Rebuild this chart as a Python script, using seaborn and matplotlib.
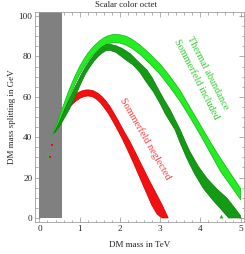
import matplotlib
matplotlib.use("Agg")
import matplotlib.pyplot as plt
import numpy as np
import seaborn as sns

# band edges: (DM mass in TeV, mass splitting in GeV)
red_outer_x = [0.39, 0.45, 0.55, 0.65, 0.75, 0.85, 0.95, 1.05, 1.15, 1.25, 1.35, 1.45, 1.55,
               1.65, 1.75, 1.85, 1.95, 2.10, 2.25, 2.40, 2.58, 2.75, 2.92, 3.05, 3.20]
red_outer_y = [42.5, 47.5, 52.0, 55.5, 58.3, 60.5, 62.0, 62.9, 63.4, 63.4, 62.9, 61.8, 60.2,
               58.0, 55.3, 52.0, 48.5, 43.0, 37.8, 31.8, 24.6, 17.8, 11.4, 6.4, 0.0]
red_inner_x = [0.39, 0.45, 0.55, 0.65, 0.76, 0.88, 1.01, 1.12, 1.22, 1.32, 1.42, 1.52, 1.62,
               1.72, 1.82, 1.92, 2.05, 2.17, 2.33, 2.50, 2.65, 2.79, 2.92, 3.04]
red_inner_y = [42.5, 45.0, 48.5, 52.0, 55.1, 57.5, 59.3, 60.2, 60.4, 60.0, 58.8, 56.9, 54.3,
               51.5, 48.0, 44.4, 39.5, 34.5, 27.5, 19.7, 12.8, 6.4, 2.0, 0.0]

light_outer_x = [0.32, 0.40, 0.50, 0.60, 0.70, 0.80, 0.90, 1.00, 1.10, 1.20, 1.30, 1.40, 1.50,
                 1.60, 1.70, 1.84, 2.00, 2.15, 2.30, 2.50, 2.75, 3.00, 3.25, 3.50, 3.75, 4.00,
                 4.25, 4.50, 4.75, 5.00]
light_outer_y = [41.0, 45.0, 50.5, 56.0, 61.5, 66.5, 71.0, 75.0, 78.5, 81.5, 84.0, 86.0, 87.8,
                 89.2, 90.2, 90.9, 90.7, 90.0, 88.5, 85.6, 81.2, 76.2, 70.0, 63.0, 54.5, 46.0,
                 37.5, 29.5, 22.0, 14.5]
light_inner_x = [0.32, 0.40, 0.50, 0.60, 0.70, 0.80, 0.90, 1.00, 1.10, 1.20, 1.30, 1.40, 1.50,
                 1.60, 1.70, 1.85, 2.00, 2.15, 2.30, 2.50, 2.75, 3.00, 3.25, 3.50, 3.75, 4.00,
                 4.25, 4.50, 4.75, 5.00]
light_inner_y = [41.0, 43.5, 47.5, 52.5, 57.5, 62.5, 67.0, 71.0, 74.5, 77.5, 80.0, 82.2, 84.0,
                 85.3, 86.3, 86.9, 86.6, 85.6, 84.0, 81.0, 76.2, 71.0, 64.5, 57.6, 49.5, 41.0,
                 32.0, 23.0, 16.0, 9.0]

dark_outer_x = [0.36, 0.45, 0.55, 0.65, 0.75, 0.85, 0.95, 1.05, 1.15, 1.25, 1.35, 1.45, 1.55,
                1.65, 1.75, 1.90, 2.05, 2.25, 2.45, 2.67, 2.80, 2.92, 3.10, 3.25, 3.40, 3.50,
                3.62, 3.74, 3.95, 4.16, 4.40, 4.66, 4.85, 5.00, 5.00]
dark_outer_y = [42.0, 45.5, 50.0, 54.5, 59.0, 63.5, 67.5, 71.5, 75.0, 78.0, 80.5, 82.7, 84.5,
                85.8, 86.0, 85.3, 84.0, 81.5, 77.5, 73.3, 69.5, 65.0, 58.5, 53.5, 47.5, 43.6,
                38.0, 32.8, 25.5, 19.7, 14.5, 9.8, 5.0, 1.0, 0.0]
dark_inner_x = [0.36, 0.45, 0.55, 0.65, 0.75, 0.85, 0.95, 1.05, 1.15, 1.25, 1.35, 1.45, 1.55,
                1.65, 1.75, 1.90, 2.00, 2.15, 2.33, 2.50, 2.62, 2.72, 2.83, 3.00, 3.12, 3.25,
                3.37, 3.50, 3.66, 3.85, 4.07, 4.30, 4.49, 4.70]
dark_inner_y = [42.0, 44.0, 47.0, 50.5, 54.0, 58.5, 63.0, 67.5, 71.5, 74.7, 77.5, 79.8, 81.6,
                82.8, 83.0, 82.0, 80.5, 78.2, 75.7, 72.0, 68.3, 65.5, 62.5, 56.5, 51.8, 47.5,
                43.6, 37.0, 29.6, 22.0, 14.7, 9.0, 4.8, 0.0]

# stray points
red_dots_x = [0.30, 0.26]
red_dots_y = [36.1, 30.3]
green_dots_x = [0.21, 4.50]
green_dots_y = [30.3, 0.8]

excluded_x = [0.0, 0.56]

sns.set_theme(style="ticks")
plt.rcParams["font.family"] = ["Liberation Serif", "DejaVu Serif"]

fig = plt.figure(figsize=(2.45, 2.54), dpi=100)
ax = fig.add_axes([0.1429, 0.126, 0.8510, 0.8268])

ax.fill_between(excluded_x, 0, 103, color="#808080", lw=0, zorder=1)


def band(xo, yo, xi, yi, face, edge):
    px = np.r_[xo, xi[::-1]]
    py = np.r_[yo, yi[::-1]]
    ax.fill(px, py, facecolor=face, edgecolor=edge, lw=0.5, zorder=2)


band(red_outer_x, red_outer_y, red_inner_x, red_inner_y, "#f21010", "#d00000")
band(light_outer_x, light_outer_y, light_inner_x, light_inner_y, "#22ee22", "#1ab01a")
band(dark_outer_x, dark_outer_y, dark_inner_x, dark_inner_y, "#149a14", "#0c7c0c")

sns.scatterplot(x=red_dots_x, y=red_dots_y, color="#e01010", s=3, marker="s", lw=0, ax=ax, zorder=3)
sns.scatterplot(x=green_dots_x[:1], y=green_dots_y[:1], color="#22cc22", s=3, marker="s", lw=0, ax=ax, zorder=3)
sns.scatterplot(x=green_dots_x[1:], y=green_dots_y[1:], color="#22bb22", s=8, marker="^", lw=0, ax=ax, zorder=3)

ax.text(4.18, 71.6, "Thermal abundance", color="#33cc33", fontsize=7.4,
        rotation=-63, ha="center", va="center", rotation_mode="anchor")
ax.text(3.89, 68.7, "Sommerfeld included", color="#33cc33", fontsize=7.4,
        rotation=-63, ha="center", va="center", rotation_mode="anchor")
ax.text(2.62, 39.5, "Sommerfeld neglected", color="#ff4040", fontsize=7.4,
        rotation=-60, ha="center", va="center", rotation_mode="anchor")

ax.set_xlim(-0.11, 5.07)
ax.set_ylim(-2.0, 102.0)
ax.set_xticks(range(0, 6))
ax.set_yticks(range(0, 101, 20))
ax.xaxis.set_minor_locator(matplotlib.ticker.MultipleLocator(0.2))
ax.yaxis.set_minor_locator(matplotlib.ticker.MultipleLocator(5))
ax.tick_params(which="both", direction="in", top=True, right=True, color="#909090",
               labelsize=6.6, labelcolor="#222222", width=0.5, pad=2)
ax.tick_params(which="major", length=3.5)
ax.tick_params(which="minor", length=1.8)
for s in ax.spines.values():
    s.set_color("#a0a0a0")
    s.set_linewidth(0.6)

ax.set_xlabel("DM mass in TeV", fontsize=6.5, color="#222222", labelpad=6)
ax.set_ylabel("DM mass splitting in GeV", fontsize=6.5, color="#222222", labelpad=2)
fig.text(0.515, 0.98, "Scalar color octet", fontsize=6.3, ha="center", va="center", color="#222222")

fig.savefig("out.png", dpi=100)
